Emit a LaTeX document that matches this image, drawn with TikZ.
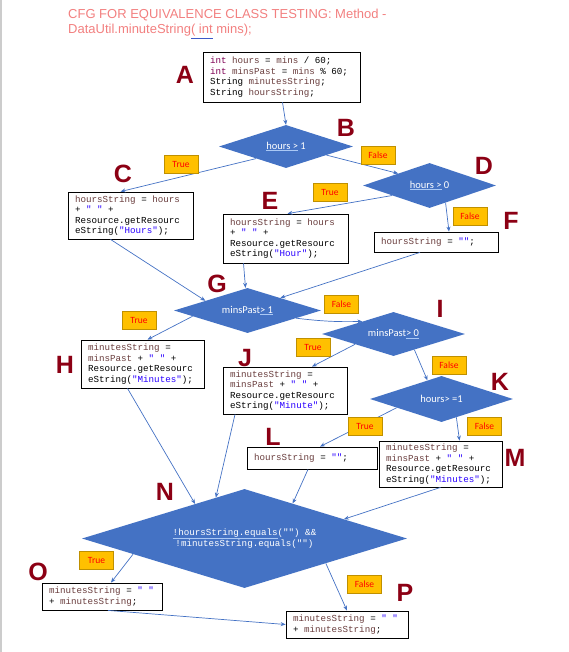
\documentclass[tikz,border=0pt]{standalone}
\usepackage{fontspec}
\setmainfont{Carlito}
\newfontfamily\codefont{Liberation Mono}
\newfontfamily\titlefont{Liberation Sans}
\usetikzlibrary{shapes.geometric,arrows.meta}
\definecolor{titlered}{RGB}{242,128,128}
\definecolor{tagred}{RGB}{140,0,20}
\definecolor{flowblue}{RGB}{68,114,196}
\definecolor{gramblue}{RGB}{60,90,200}
\definecolor{gramlight}{RGB}{170,200,245}
\definecolor{tagfill}{RGB}{255,192,0}
\definecolor{tagline}{RGB}{191,144,0}
\definecolor{varcol}{RGB}{106,62,62}
\definecolor{kwcol}{RGB}{127,0,85}
\definecolor{strcol}{RGB}{42,0,255}
\newcommand{\vr}[1]{\textcolor{varcol}{#1}}
\newcommand{\kw}[1]{\textcolor{kwcol}{#1}}
\newcommand{\st}[1]{\textcolor{strcol}{#1}}
\newcommand{\gram}[1]{{\color{gramlight}\underline{\color{white}#1}}}
\newcommand{\codesize}{\codefont\fontsize{9.2}{10.5}\selectfont}
\tikzset{
monospace/.style={execute at begin node={\spaceskip=0.6em\xspaceskip=0.6em\relax}},
codebox/.style={
	draw, line width=0.8pt, fill=white, align=left, inner xsep=7pt, inner ysep=2pt,
	font=\codesize, monospace},
decision/.style={
	diamond, fill=flowblue, inner sep=0pt, text=white,
	font=\fontsize{10.5}{12}\selectfont},
tag/.style={
	draw=tagline, fill=tagfill, text=red, minimum width=34pt, minimum height=18pt,
	inner sep=0pt, font=\fontsize{9.5}{11}\selectfont},
letter/.style={text=tagred, font=\titlefont\bfseries\fontsize{25}{25}\selectfont},
flow/.style={draw=flowblue, line width=0.7pt, -{Stealth[length=5pt,width=4pt]}}
}

\begin{document}
\begin{tikzpicture}[x=1pt, y=-1pt]
	\useasboundingbox (0,0) rectangle (568,652);
	\draw[black!20, line width=1.5pt] (1,0) -- (1,652);
	\node[anchor=north west, inner sep=0pt, align=left, text=titlered,
		font=\titlefont\fontsize{13}{15.5}\selectfont] (title) at (68,8.5)
		{CFG FOR EQUIVALENCE CLASS TESTING: Method -\\
		DataUtil.minuteString{\color{gramblue}\underline{\color{titlered}( int}} mins);};

	% statements
	\node[codebox, text width=143pt, minimum height=50pt] (A) at (281.5,77)
		{\kw{int} \vr{hours} = \vr{mins} / 60;\\
		\kw{int} \vr{minsPast} = \vr{mins} \% 60;\\
		String \vr{minutesString};\\
		String \vr{hoursString};};
	\node[codebox, text width=111pt, minimum height=47pt] (C) at (130.5,215.5)
		{\vr{hoursString} = \vr{hours}\\
		+ \st{" "} +\\
		Resource.getResourc\\
		eString(\st{"Hours"});};
	\node[codebox, text width=111pt, minimum height=49pt] (E) at (285.5,238.5)
		{\vr{hoursString} = \vr{hours}\\
		+ \st{" "} +\\
		Resource.getResourc\\
		eString(\st{"Hour"});};
	\node[codebox, text width=110pt, minimum height=20pt] (F) at (436,242)
		{\vr{hoursString} = \st{""};};
	\node[codebox, text width=109pt, minimum height=48pt] (H) at (142.5,364)
		{\vr{minutesString} =\\
		\vr{minsPast} + \st{" "} +\\
		Resource.getResourc\\
		eString(\st{"Minutes"});};
	\node[codebox, text width=110pt, minimum height=47pt] (J) at (285,390.5)
		{\vr{minutesString} =\\
		\vr{minsPast} + \st{" "} +\\
		Resource.getResourc\\
		eString(\st{"Minute"});};
	\node[codebox, text width=116pt, minimum height=22pt] (L) at (312,458)
		{\vr{hoursString} = \st{""};};
	\node[codebox, text width=109pt, minimum height=46pt] (M) at (440.5,464)
		{\vr{minutesString} =\\
		\vr{minsPast} + \st{" "} +\\
		Resource.getResourc\\
		eString(\st{"Minutes"});};
	\node[codebox, text width=106pt, minimum height=27pt] (O) at (102,596.5)
		{\vr{minutesString} = \st{" "}\\
		+ \vr{minutesString};};
	\node[codebox, text width=108pt, minimum height=27pt] (P) at (347,624.5)
		{\vr{minutesString} = \st{" "}\\
		+ \vr{minutesString};};

	% decisions
	\node[decision, aspect=3.1, minimum width=134pt, minimum height=43pt] (B) at (286,146.5) {\gram{hours >} 1};
	\node[decision, aspect=3, minimum width=133pt, minimum height=45pt] (D) at (429.5,185.5) {\gram{hours >} 0};
	\node[decision, aspect=3.3, minimum width=147pt, minimum height=45pt] (G) at (247.5,310.5) {minsPast\gram{> 1}};
	\node[decision, aspect=3.25, minimum width=143pt, minimum height=44pt] (I) at (393.5,334) {minsPast\gram{> 0}};
	\node[decision, aspect=3.1, minimum width=143pt, minimum height=46pt] (K) at (441.5,399) {hours> =1};
	\node[decision, aspect=3.3, minimum width=325pt, minimum height=99pt, align=center,
		font=\codesize, monospace] (N) at (244.5,538.5)
		{\gram{!hoursString.equals}("") \&\&\\!minutesString.equals("")};

	% edges
	\draw[flow] ([xshift=1pt]A.south) -- (B.north);
	\draw[flow] (B.202) -- ([xshift=-10pt]C.north);
	\draw[flow] (B.-12) -- (D.159);
	\draw[flow] (D.195) -- ([xshift=2pt]E.north);
	\draw[flow] (D.-47) -- ([xshift=13pt]F.north);
	\draw[flow] ([xshift=-20pt]C.south) -- (G.167);
	\draw[flow] ([xshift=-42pt]E.south) -- ([xshift=-2pt]G.north);
	\draw[flow] ([xshift=-16pt]F.south) -- (G.21);
	\draw[flow] (G.186) -- ([xshift=5pt]H.north);
	\draw[flow] (G.-9) to[bend right=4] (I.158);
	\draw[flow] (I.195) -- ([xshift=27pt]J.north);
	\draw[flow] (I.-37) -- (K.127);
	\draw[flow] (K.191) -- ([xshift=8pt]L.north);
	\draw[flow] (K.-51) -- ([xshift=19pt]M.north);
	\draw[flow] ([xshift=-15pt]H.south) -- (N.145);
	\draw[flow] ([xshift=-50pt]J.south) -- (N.125);
	\draw[flow] ([xshift=-4pt]L.south) -- (N.36);
	\draw[flow] (M.south) -- (N.11);
	\draw[flow] (N.188) -- ([xshift=9pt]O.north);
	\draw[flow] (N.-17) -- (P.north);
	\draw[flow] ([xshift=6pt]O.south) -- (P.west);

	% branch tags
	\node[tag] (BT) at (181,164) {True};
	\node[tag] (BF) at (378,155.5) {False};
	\node[tag] (DT) at (330,192.5) {True};
	\node[tag] (DF) at (470,216.5) {False};
	\node[tag] (GT) at (139,320.5) {True};
	\node[tag] (GF) at (341.5,304) {False};
	\node[tag] (IT) at (313,347.5) {True};
	\node[tag] (IF) at (449,365) {False};
	\node[tag] (KT) at (365,426) {True};
	\node[tag] (KF) at (484.5,426.5) {False};
	\node[tag] (NT) at (96.5,560) {True};
	\node[tag] (NF) at (364.5,584.5) {False};

	% letters
	\node[letter] (lA) at (185,75) {A};
	\node[letter] (lB) at (346,128) {B};
	\node[letter] (lC) at (123,174) {C};
	\node[letter] (lD) at (484,166) {D};
	\node[letter] (lE) at (270,201) {E};
	\node[letter] (lF) at (511,221) {F};
	\node[letter] (lG) at (217,284) {G};
	\node[letter] (lH) at (65,365) {H};
	\node[letter] (lI) at (440,309) {I};
	\node[letter] (lJ) at (245,358) {J};
	\node[letter] (lK) at (500,382) {K};
	\node[letter] (lL) at (273,437) {L};
	\node[letter] (lM) at (515,458) {M};
	\node[letter] (lN) at (165,492) {N};
	\node[letter] (lO) at (38,572) {O};
	\node[letter] (lP) at (405,593) {P};
\end{tikzpicture}
\end{document}
